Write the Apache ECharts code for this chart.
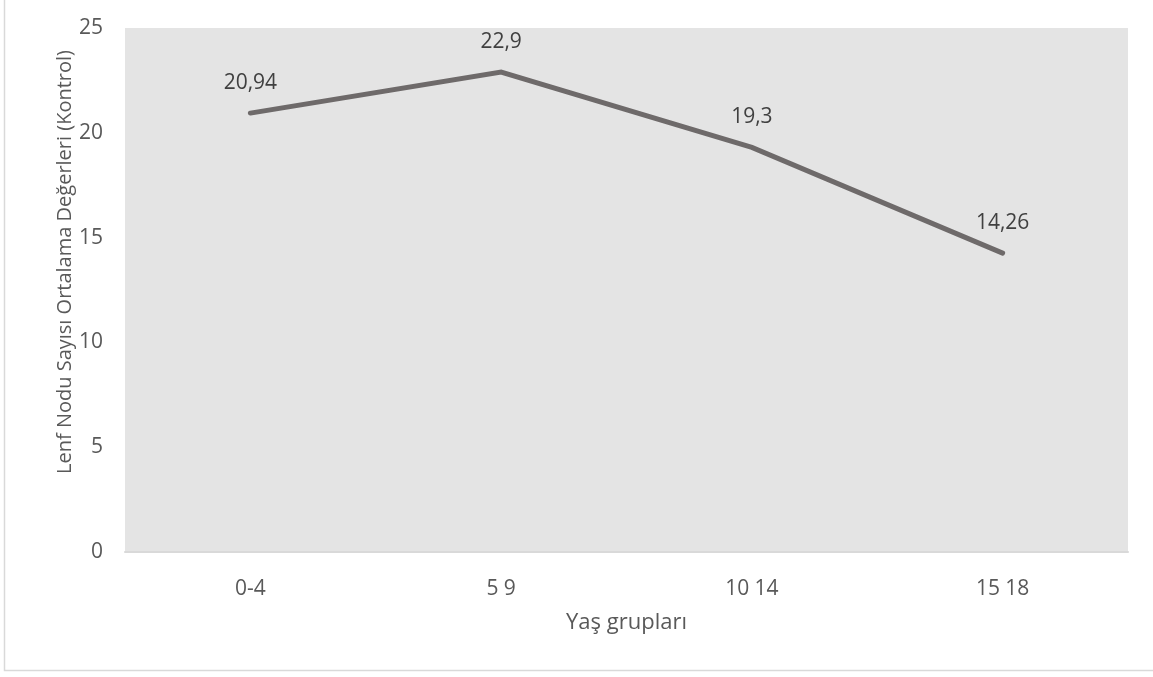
<!DOCTYPE html>
<html>
<head>
<meta charset="utf-8">
<script src="https://cdn.jsdelivr.net/npm/echarts@6/dist/echarts.min.js"></script>
<style>
  html, body { margin: 0; padding: 0; background: #ffffff; }
  #chart { width: 1153px; height: 677px; }
</style>
</head>
<body>
<div id="chart"></div>
<script>
// Age groups and the mean lymph node counts (control group)
const categories = ['0-4', '5 9', '10 14', '15 18'];
const meanValues = [20.94, 22.9, 19.3, 14.26];
const yTicks = { min: 0, max: 25, step: 5 };

const xTitle = 'Yaş grupları';
const yTitle = 'Lenf Nodu Sayısı Ortalama Değerleri (Kontrol)';

const FONT = 'Open Sans';
const TEXT = '#595959';

const chart = echarts.init(document.getElementById('chart'), null, { renderer: 'canvas' });

chart.setOption({
  animation: false,
  backgroundColor: '#ffffff',
  textStyle: { fontFamily: FONT },
  graphic: [
    {
      type: 'rect',
      silent: true,
      shape: { x: 4.5, y: -10, width: 1170, height: 680.5 },
      style: { fill: 'none', stroke: '#d9d9d9', lineWidth: 1.5 }
    },
    {
      type: 'text',
      silent: true,
      x: 65,
      y: 262,
      rotation: Math.PI / 2,
      style: {
        text: yTitle,
        fontFamily: FONT,
        fontSize: 20,
        fill: TEXT,
        align: 'center',
        verticalAlign: 'middle'
      }
    }
  ],
  grid: {
    left: 125,
    right: 25,
    top: 28,
    bottom: 125,
    show: true,
    backgroundColor: '#e4e4e4',
    borderWidth: 0
  },
  xAxis: {
    type: 'category',
    data: categories,
    boundaryGap: true,
    name: xTitle,
    nameLocation: 'middle',
    nameGap: 60,
    nameTextStyle: { fontFamily: FONT, fontSize: 22, color: TEXT },
    axisLine: { show: true, lineStyle: { color: '#d9d9d9', width: 2 } },
    axisTick: { show: false },
    axisLabel: { fontFamily: FONT, fontSize: 21, color: TEXT, margin: 27 },
    splitLine: { show: false }
  },
  yAxis: {
    type: 'value',
    min: yTicks.min,
    max: yTicks.max,
    interval: yTicks.step,
    axisLine: { show: false },
    axisTick: { show: false },
    axisLabel: { fontFamily: FONT, fontSize: 21, color: TEXT, margin: 22 },
    splitLine: { show: false }
  },
  series: [
    {
      type: 'line',
      data: meanValues,
      symbol: 'circle',
      symbolSize: 2,
      showSymbol: true,
      itemStyle: { color: 'rgba(0,0,0,0)' },
      lineStyle: { color: '#6e6a6a', width: 5, cap: 'round', join: 'miter' },
      label: {
        show: true,
        position: 'top',
        distance: 19,
        fontFamily: FONT,
        fontSize: 21,
        color: '#404040',
        formatter: (p) => String(p.value).replace('.', ',')
      },
      labelLayout: { hideOverlap: false }
    }
  ]
});
</script>
</body>
</html>
